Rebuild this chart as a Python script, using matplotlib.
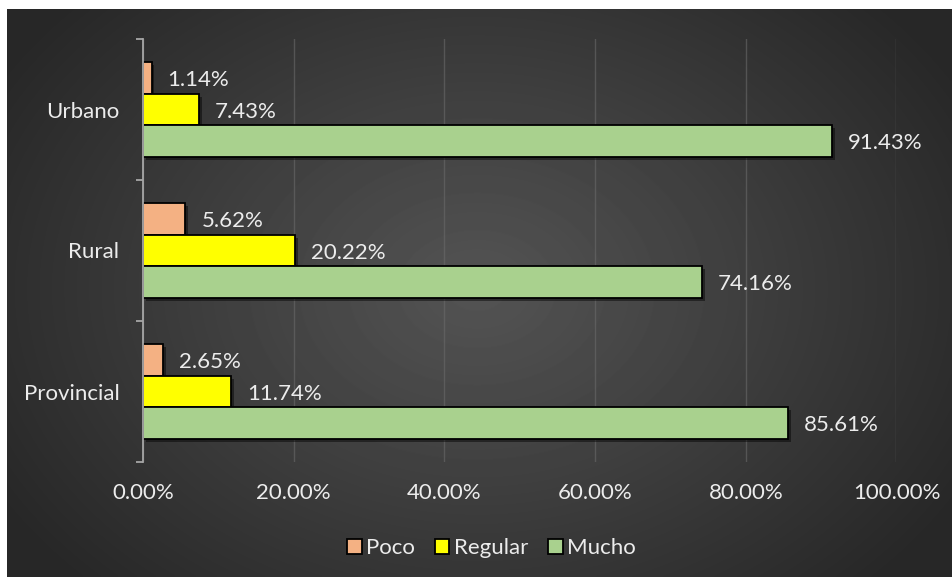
import numpy as np
import matplotlib.pyplot as plt
import matplotlib.patheffects as pe

# ------------------------
# Datos
# ------------------------
categorias = ["Urbano", "Rural", "Provincial"]
series = ["Poco", "Regular", "Mucho"]
poco = [1.14, 5.62, 2.65]
regular = [7.43, 20.22, 11.74]
mucho = [91.43, 74.16, 85.61]
colores = ["#F4B183", "#FFFF00", "#A9D18E"]
ticks_x = [0, 20, 40, 60, 80, 100]

TEXTO = "#ececec"
TAM = 16
plt.rcParams['font.family'] = ['Lato', 'DejaVu Sans']

fig = plt.figure(figsize=(9.53, 5.78), dpi=100)
fig.patch.set_facecolor("white")

# ------------------------
# Fondo con degradado radial
# ------------------------
bg = fig.add_axes([7 / 953, 1 - 577 / 578, 945 / 953, 568 / 578])
yy, xx = np.mgrid[0:568, 0:945]
r = np.sqrt(((xx - 470) / 560.0) ** 2 + ((yy - 280) / 420.0) ** 2)
r = np.clip(r, 0, 1)
claro, oscuro = 0x54 / 255, 0x27 / 255
img = claro + (oscuro - claro) * r
bg.imshow(img, cmap="gray", vmin=0, vmax=1, aspect="auto", interpolation="bilinear")
bg.axis("off")

# ------------------------
# Barras
# ------------------------
ax = fig.add_axes([143 / 953, 116 / 578, 753.5 / 953, 423 / 578])
ax.patch.set_alpha(0)

n = len(categorias)
centros = np.arange(n)[::-1] + 0.5
alto = 0.2234
desp = [alto, 0, -alto]

sombra = [pe.SimplePatchShadow(offset=(2, -2), shadow_rgbFace="black", alpha=0.45), pe.Normal()]

for i, (nombre, valores) in enumerate(zip(series, [poco, regular, mucho])):
    ys = centros + desp[i]
    barras = ax.barh(ys, valores, height=alto, color=colores[i], edgecolor="black",
                     linewidth=1.3, label=nombre, zorder=3)
    for b in barras:
        b.set_path_effects(sombra)
    for y, v in zip(ys, valores):
        ax.annotate(f"{v:.2f}%", (v, y), xytext=(11.5, -1.5), textcoords="offset points",
                    ha="left", va="center", color=TEXTO, fontsize=TAM)

ax.set_xlim(0, 100)
ax.set_ylim(0, n)
ax.set_xticks(ticks_x)
ax.set_xticklabels([f"{t:.2f}%" for t in ticks_x], color=TEXTO, fontsize=TAM)
ax.tick_params(axis="x", length=0, pad=15)
ax.grid(axis="x", color="#6a6a6a", linewidth=1, alpha=0.6, zorder=0)

# Eje vertical con marcas entre categorías
ax.set_yticks(np.arange(n + 1))
ax.set_yticklabels([])
ax.tick_params(axis="y", length=5, width=1.3, color="#a6a6a6")
ax.set_yticks(centros, minor=True)
ax.set_yticklabels(categorias, minor=True, color=TEXTO, fontsize=TAM)
ax.tick_params(axis="y", which="minor", length=0, pad=17)

for lado in ["top", "right", "bottom"]:
    ax.spines[lado].set_visible(False)
ax.spines["left"].set_color("#a6a6a6")
ax.spines["left"].set_linewidth(1.3)
ax.spines["left"].set_zorder(4)

# ------------------------
# Leyenda
# ------------------------
leg = fig.legend(loc="center", bbox_to_anchor=(491.5 / 953, 1 - 548 / 578), ncol=3,
                 frameon=False, fontsize=TAM, handlelength=0.65, handleheight=0.65,
                 handletextpad=0.2, columnspacing=0.9, labelcolor=TEXTO)
for h in leg.legend_handles:
    h.set_path_effects([])

fig.savefig("out.png", dpi=100)
